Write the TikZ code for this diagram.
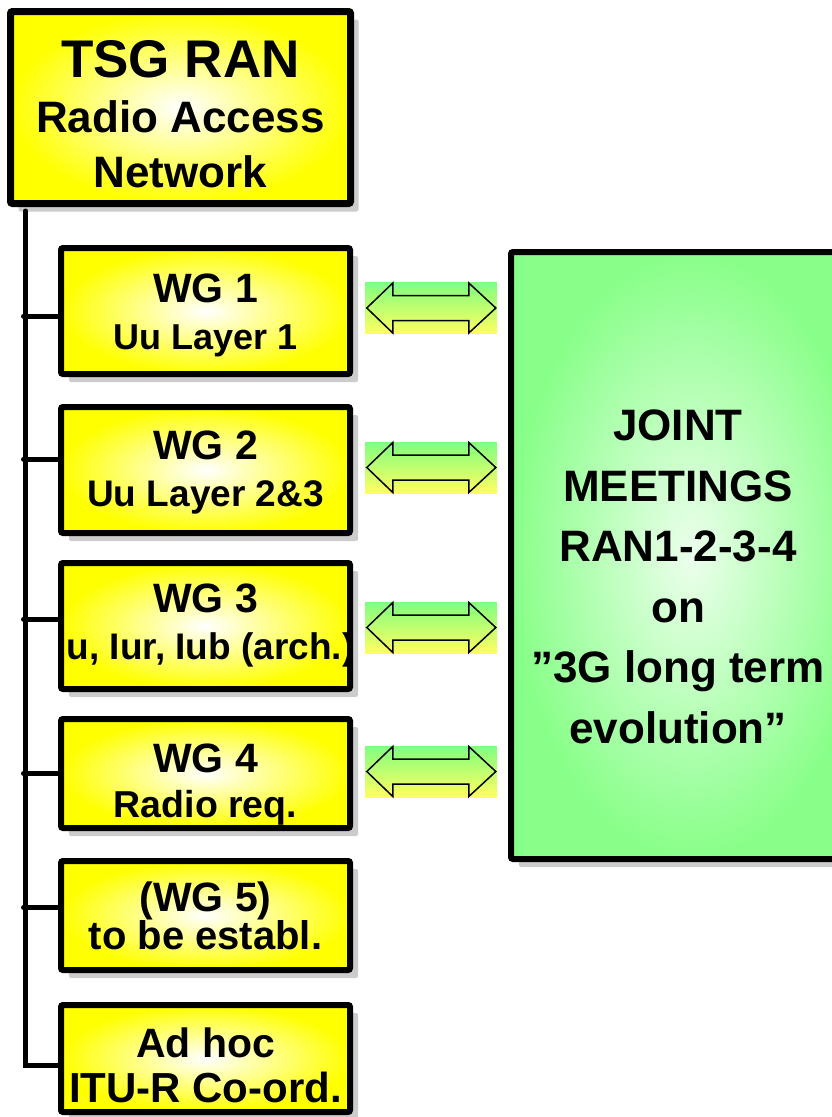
\documentclass[tikz,border=0pt]{standalone}
\usepackage{fontspec}
\setmainfont{Liberation Sans}
\usetikzlibrary{shadows}

\definecolor{boxyellow}{RGB}{255,255,0}
\definecolor{jointgreen}{RGB}{136,255,136}
\definecolor{jointlight}{RGB}{236,255,236}
\definecolor{arrowgreen}{RGB}{128,255,128}
\definecolor{arrowyellow}{RGB}{255,255,96}
\definecolor{shadowgrey}{RGB}{204,204,204}

\newcommand{\subline}[2]{{\fontsize{#1}{47}\selectfont #2}}
\newcommand{\lift}[1]{\rule{0pt}{#1pt}}

\tikzset{
  shadowed/.style={drop shadow={shadow xshift=8pt, shadow yshift=-8pt, opacity=1, fill=shadowgrey}},
  tsgbox/.style={rectangle, draw, line width=7pt, rounded corners=2pt,
    inner color=white, outer color=boxyellow, shadowed,
    minimum width=340pt, minimum height=192pt, inner sep=0pt, align=center,
    font=\bfseries\fontsize{44}{55}\selectfont},
  wgbox/.style={rectangle, draw, line width=6pt, rounded corners=2pt,
    inner color=white, outer color=boxyellow, shadowed,
    minimum width=289pt, inner sep=0pt, align=center,
    font=\bfseries\fontsize{41}{47}\selectfont},
  jointbox/.style={rectangle, draw, line width=6pt, rounded corners=2pt,
    inner color=jointlight, outer color=jointgreen, shadowed,
    minimum width=360pt, minimum height=607pt},
  jointtext/.style={align=center, inner sep=0pt,
    font=\bfseries\fontsize{44}{60.5}\selectfont},
  dblbox/.style={rectangle, inner sep=0pt, minimum width=132pt, minimum height=51pt,
    top color=arrowgreen, bottom color=arrowyellow},
  trunk/.style={line width=5pt, line cap=round}
}

\begin{document}
\begin{tikzpicture}[x=1pt,y=-1pt]

  \useasboundingbox (0,0) rectangle (831,1117);

  % main group and the working groups
  \node[tsgbox] (tsg) at (180.5,107.5) {{\fontsize{53}{55}\selectfont\lift{49.5}TSG RAN}\\Radio Access\\Network};

  \node[wgbox, minimum height=126pt] (wg1) at (205.5,311) {\lift{37}WG 1\\\subline{36}{Uu Layer 1}};
  \node[wgbox, minimum height=126pt] (wg2) at (205.5,470) {\lift{34}WG 2\\\subline{37}{Uu Layer 2\&3}};
  \node[wgbox, minimum height=126pt] (wg3) at (205.5,626) {WG 3\\\subline{37}{\makebox[0pt]{Iu, Iur, Iub (arch.)}}};
  \node[wgbox, minimum height=109pt, font=\bfseries\fontsize{41}{45}\selectfont] (wg4) at (205.5,773.5) {\lift{51}WG 4\\\subline{37.5}{Radio req.}};
  \node[wgbox, minimum height=109pt, font=\bfseries\fontsize{41}{38}\selectfont] (wg5) at (205.5,915.5) {(WG 5)\\\subline{40}{to be establ.}};
  \node[wgbox, minimum height=107pt, font=\bfseries\fontsize{41}{45}\selectfont] (adhoc) at (205.5,1058.5) {\lift{44}Ad hoc\\\subline{42}{ITU-R Co-ord.}};

  % joint meetings
  \node[jointbox] (joint) at (691,555.5) {};
  \node[jointtext] (jtxt) at (678,577) {JOINT\\MEETINGS\\RAN1-2-3-4\\on\\”3G long term\\evolution”};

  % double arrows
  \node[dblbox] (a1) at (431,308) {};
  \node[dblbox] (a2) at (431,467.5) {};
  \node[dblbox] (a3) at (431,627.5) {};
  \node[dblbox] (a4) at (431,771.5) {};

  \foreach \a in {a1,a2,a3,a4}
    \draw[line width=1.5pt] ([xshift=2pt]\a.west) -- ++(26,-25) -- ++(0,12.5) -- ++(76,0)
      -- ++(0,-12.5) -- ++(27,25) -- ++(-27,25) -- ++(0,-12.5) -- ++(-76,0) -- ++(0,12.5) -- cycle;

  % tree lines
  \coordinate (trunktop) at (25.5,211);
  \draw[trunk] (trunktop) |- ([yshift=-7pt]adhoc.west);
  \foreach \n/\dy in {wg1/-5, wg2/11, wg3/7, wg4/0, wg5/8}
    \draw[trunk] ([xshift=-2pt,yshift=\dy pt]trunktop |- \n.west) -- ([yshift=\dy pt]\n.west);

\end{tikzpicture}
\end{document}
